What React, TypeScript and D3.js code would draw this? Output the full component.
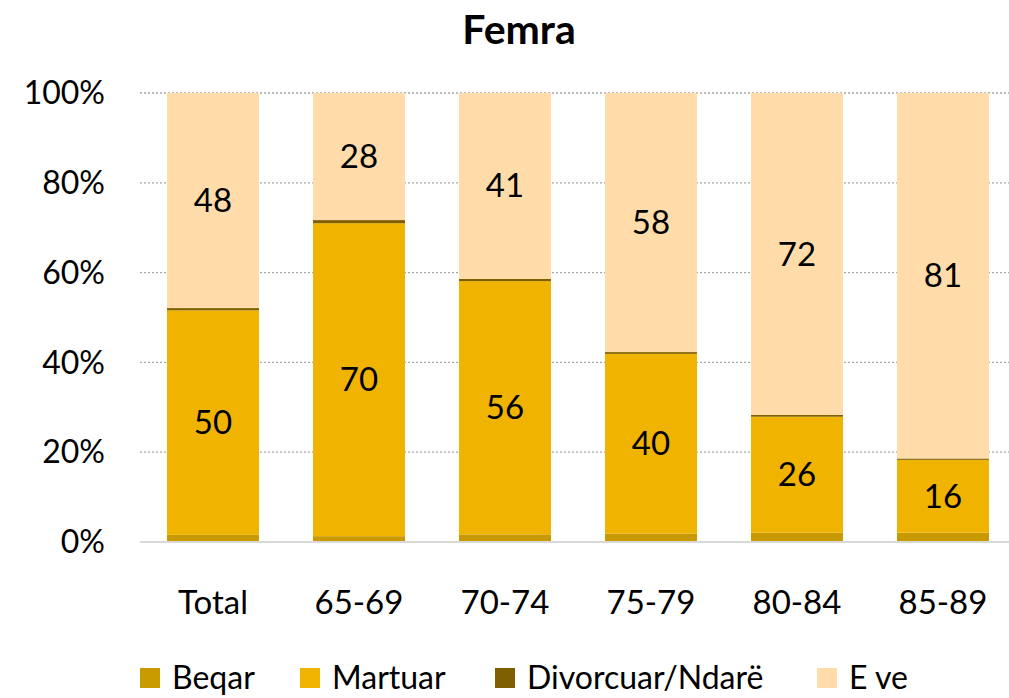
import React, { useEffect, useRef } from 'react'
import * as d3 from 'd3'

const categories = ['Total', '65-69', '70-74', '75-79', '80-84', '85-89']
const seriesNames = ['Beqar', 'Martuar', 'Divorcuar/Ndarë', 'E ve']
const beqar = [1.6, 1.3, 1.7, 1.9, 2.1, 2.1]
const martuar = [50.0, 69.7, 56.4, 40.0, 25.8, 16.2]
const divorcuar = [0.5, 0.7, 0.5, 0.4, 0.4, 0.3]
const eVe = [47.9, 28.3, 41.4, 57.7, 71.7, 81.4]
const yTicks = [0, 20, 40, 60, 80, 100]
const colors = ['#c99a00', '#f0b400', '#7f6000', '#ffdcaa']

function App() {
  const svgRef = useRef<SVGSVGElement>(null)

  useEffect(() => {
    const w = 1009
    const h = 698
    const svg = d3.select(svgRef.current)
    svg.selectAll('*').remove()
    svg.attr('width', w).attr('height', h)

    const font = 'Lato, Calibri, sans-serif'
    const top = 93
    const bottom = 542
    const left = 140
    const right = 1016

    const rows = categories.map((c, i) => ({
      cat: c,
      Beqar: beqar[i],
      Martuar: martuar[i],
      'Divorcuar/Ndarë': divorcuar[i],
      'E ve': eVe[i]
    }))
    const stacked = d3.stack<any>().keys(seriesNames)(rows)

    const x = d3.scaleBand().domain(categories).range([left, right]).paddingInner(0.37).paddingOuter(0.185)
    const y = d3.scaleLinear().domain([0, 100]).range([bottom, top])

    // gridlines
    svg.append('g')
      .selectAll('line')
      .data(yTicks.filter(t => t > 0))
      .join('line')
      .attr('x1', left)
      .attr('x2', right - 6)
      .attr('y1', d => y(d))
      .attr('y2', d => y(d))
      .attr('stroke', '#a6a6a6')
      .attr('stroke-width', 1.3)
      .attr('stroke-dasharray', '2,2')

    // bars
    svg.append('g')
      .selectAll('g')
      .data(stacked)
      .join('g')
      .attr('fill', (d, i) => colors[i])
      .selectAll('rect')
      .data(d => d)
      .join('rect')
      .attr('x', d => x(d.data.cat)!)
      .attr('width', x.bandwidth())
      .attr('y', d => y(d[1]))
      .attr('height', d => y(d[0]) - y(d[1]))

    // axis line
    svg.append('line')
      .attr('x1', left)
      .attr('x2', right - 6)
      .attr('y1', y(0))
      .attr('y2', y(0))
      .attr('stroke', '#d9d9d9')
      .attr('stroke-width', 2)

    // data labels for Martuar and E ve
    const labelled = [1, 3]
    labelled.forEach(si => {
      svg.append('g')
        .selectAll('text')
        .data(stacked[si])
        .join('text')
        .attr('x', d => x(d.data.cat)! + x.bandwidth() / 2)
        .attr('y', d => (y(d[0]) + y(d[1])) / 2)
        .attr('dy', '0.35em')
        .attr('text-anchor', 'middle')
        .attr('font-family', font)
        .attr('font-size', 33)
        .attr('fill', '#000')
        .text(d => Math.round(d[1] - d[0]))
    })

    // y axis labels
    svg.append('g')
      .selectAll('text')
      .data(yTicks)
      .join('text')
      .attr('x', 105)
      .attr('y', d => y(d))
      .attr('dy', '0.35em')
      .attr('text-anchor', 'end')
      .attr('font-family', font)
      .attr('font-size', 32)
      .attr('fill', '#000')
      .text(d => d + '%')

    // x axis labels
    svg.append('g')
      .selectAll('text')
      .data(categories)
      .join('text')
      .attr('x', d => x(d)! + x.bandwidth() / 2)
      .attr('y', 602)
      .attr('dy', '0.35em')
      .attr('text-anchor', 'middle')
      .attr('font-family', font)
      .attr('font-size', 33)
      .attr('fill', '#000')
      .text(d => d)

    // title
    svg.append('text')
      .attr('x', 519)
      .attr('y', 30)
      .attr('dy', '0.35em')
      .attr('text-anchor', 'middle')
      .attr('font-family', font)
      .attr('font-weight', 'bold')
      .attr('font-size', 41)
      .attr('fill', '#000')
      .text('Femra')

    // legend
    const legendX = [140, 300, 495, 817]
    const lg = svg.append('g')
      .selectAll('g')
      .data(seriesNames)
      .join('g')
      .attr('transform', (d, i) => `translate(${legendX[i]},668)`)
    lg.append('rect')
      .attr('width', 20)
      .attr('height', 20)
      .attr('fill', (d, i) => colors[i])
    lg.append('text')
      .attr('x', 32)
      .attr('y', 10)
      .attr('dy', '0.35em')
      .attr('font-family', font)
      .attr('font-size', 32)
      .attr('fill', '#000')
      .text(d => d)
  }, [])

  return (
    <svg ref={svgRef} style={{ position: 'absolute', left: 0, top: 0, display: 'block' }}></svg>
  )
}

export default App
